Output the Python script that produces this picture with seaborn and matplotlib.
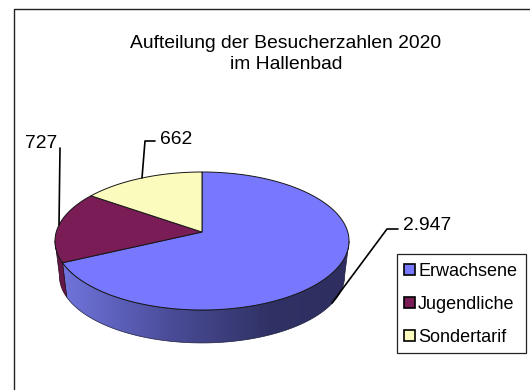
import numpy as np
import seaborn as sns
import matplotlib
matplotlib.use("Agg")
import matplotlib.pyplot as plt
from matplotlib.patches import Polygon, Patch, Rectangle
from matplotlib.colors import LinearSegmentedColormap

categories = ["Erwachsene", "Jugendliche", "Sondertarif"]
visitors = [2947, 727, 662]
value_labels = ["2.947", "727", "662"]
title_lines = ["Aufteilung der Besucherzahlen 2020", "im Hallenbad"]
colors = ["#7878FF", "#7A1D57", "#FBFBBE"]

sns.set_theme(style="white")
plt.rcParams["font.family"] = ["Liberation Sans", "DejaVu Sans"]

fig = plt.figure(figsize=(5.3, 3.9), dpi=100)
ax = fig.add_axes([0, 0, 1, 1])
ax.set_xlim(0, 530)
ax.set_ylim(390, 0)
ax.axis("off")

# outer chart frame (clipped at the right and bottom by the picture)
ax.plot([14, 14, 540], [400, 9, 9], color="#222222", lw=1.0, zorder=1)

# tilted pie geometry (pixels) with a perspective shift of the apex
CX, CY, RX, RY, PERSP = 202, 241, 147, 69, 0.13
BOTTOM_CY, BOTTOM_SCALE = 276, 0.97


def project(theta, r=1.0):
    u, v = r * np.cos(theta), r * np.sin(theta)
    d = 1 + PERSP * v
    return CX + RX * u * np.sqrt(1 - PERSP ** 2) / d, CY - RY * (v + PERSP) / d


def to_bottom(x, y):
    return CX + (x - CX) * BOTTOM_SCALE, BOTTOM_CY + (y - CY) * BOTTOM_SCALE


fractions = np.array(visitors) / sum(visitors)
# slices run clockwise from 12 o'clock
ends = np.pi / 2 - 2 * np.pi * np.cumsum(fractions)
starts = np.r_[np.pi / 2, ends[:-1]]

# side wall
cmap = LinearSegmentedColormap.from_list(
    "side", [(0, "#7074DC"), (0.38, "#4A4C98"), (0.72, "#303265"), (1, "#2E2F60")]
)
for i, (a, b) in enumerate(zip(starts, ends)):
    th = np.linspace(a, b, 400)
    x, y = project(th)
    mask = y >= CY - 0.5
    if mask.sum() < 2:
        continue
    xs, ys = x[mask], y[mask]
    xb, yb = to_bottom(xs, ys)
    pts = np.r_[np.c_[xs, ys], np.c_[xb[::-1], yb[::-1]]]
    if i == 0:
        poly = Polygon(pts, closed=True, facecolor="none", edgecolor="none", transform=ax.transData)
        ax.add_patch(poly)
        grad = np.linspace(0, 1, 300).reshape(1, -1)
        im = ax.imshow(grad, extent=[xs.min(), xs.max(), yb.max(), ys.min()],
                       cmap=cmap, aspect="auto", zorder=2)
        im.set_clip_path(poly)
        ax.add_patch(Polygon(pts, closed=True, facecolor="none", edgecolor="#1c1c3c", lw=0.5, zorder=2.5))
    else:
        ax.add_patch(Polygon(pts, closed=True, facecolor="#641848", edgecolor="#2a0a20", lw=0.5, zorder=2.5))
ax.set_xlim(0, 530)
ax.set_ylim(390, 0)

# top face
apex_x, apex_y = project(0.0, r=0.0)
for a, b, c in zip(starts, ends, colors):
    th = np.linspace(a, b, 300)
    x, y = project(th)
    pts = np.r_[[[apex_x, apex_y]], np.c_[x, y]]
    ax.add_patch(Polygon(pts, closed=True, facecolor=c, edgecolor="#161616", lw=0.7, zorder=3))

# leader lines and labels
ax.plot([332, 387, 398], [303, 229, 229], color="black", lw=1.2, zorder=4)
ax.plot([59, 60], [225, 148], color="black", lw=1.2, zorder=4)
ax.plot([142, 145, 155], [178, 141, 141], color="black", lw=1.2, zorder=4)
font = 13.85
ax.text(403, 226, value_labels[0], fontsize=font, color="black", ha="left", va="center")
ax.text(25, 143.5, value_labels[1], fontsize=font, color="black", ha="left", va="center")
ax.text(160, 139, value_labels[2], fontsize=font, color="black", ha="left", va="center")

ax.text(286, 43.5, title_lines[0], fontsize=font, color="black", ha="center", va="center")
ax.text(286, 64.5, title_lines[1], fontsize=font, color="black", ha="center", va="center")

# legend: fixed box with a frameless legend inside it
ax.add_patch(Rectangle((397, 254), 129, 99, facecolor="white", edgecolor="#222222", lw=0.9, zorder=4.5))
handles = [Patch(facecolor=c, edgecolor="black", lw=1.2) for c in colors]
leg = ax.legend(handles, categories, loc="upper left", bbox_to_anchor=(404, 263),
                bbox_transform=ax.transData, fontsize=13, frameon=False,
                handlelength=0.61, handleheight=0.61, handletextpad=0.17,
                labelspacing=0.885, borderpad=0, borderaxespad=0, labelcolor="black")
leg.set_zorder(5)

fig.savefig("out.png", dpi=100, facecolor="white")
